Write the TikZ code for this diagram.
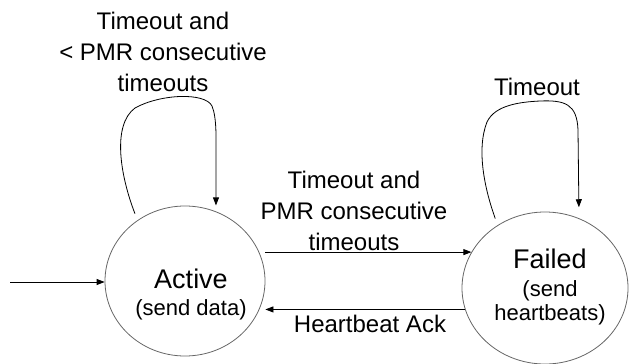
\documentclass[tikz,border=0pt]{standalone}
\usepackage{fontspec}
\setmainfont{Liberation Sans}
\usetikzlibrary{shapes.geometric,arrows.meta}
\begin{document}
\begin{tikzpicture}[x=1pt,y=-1pt,
  state/.style={ellipse,draw=black!60,line width=0.8pt,inner sep=0pt},
  lbl/.style={align=center,font=\fontsize{24}{31}\selectfont},
  stxt/.style={align=center,font=\fontsize{22}{24}\selectfont},
  arr/.style={-{Triangle[length=8pt,width=6pt]},line width=0.8pt,draw=black}]
\useasboundingbox (0,0) rectangle (629,364);
\node[state,minimum width=160pt,minimum height=150pt] (active) at (185,281) {};
\node[state,minimum width=166pt,minimum height=152pt] (failed) at (545,288) {};
\node[stxt] (activetxt) at (191,294) {{\fontsize{27}{30}\selectfont Active}\\[3pt](send data)};
\node[stxt] (failedtxt) at (550,286.5) {{\fontsize{27}{30}\selectfont Failed}\\[4pt](send\\heartbeats)};
\node[lbl] (l1) at (163,52) {Timeout and\\< PMR consecutive\\timeouts};
\node[lbl] (l2) at (354,211) {Timeout and\\PMR consecutive\\timeouts};
\node[lbl] (l3) at (537,86.5) {Timeout};
\node[lbl] (l4) at (370,324) {Heartbeat Ack};
\coordinate (start) at (10,282);
\draw[arr] (start) -- (start -| active.west);
\draw[arr] (active.east |- failed.154) -- (failed.154);
\draw[arr] (failed.195) -- (failed.195 -| active.east);
\draw[arr,shorten <=7pt,shorten >=6pt] (active.128) .. controls (120,175) and (112,125) .. (135,108) .. controls (160,94) and (205,92) .. (212,106) .. controls (217,118) and (216,140) .. (216,160) -- (active.66);
\draw[arr,shorten <=7pt,shorten >=11pt] (failed.127) .. controls (485,190) and (476,150) .. (487,122) .. controls (495,105) and (520,102) .. (540,101) .. controls (565,100) and (577,104) .. (578,130) -- (failed.64);
\end{tikzpicture}
\end{document}
